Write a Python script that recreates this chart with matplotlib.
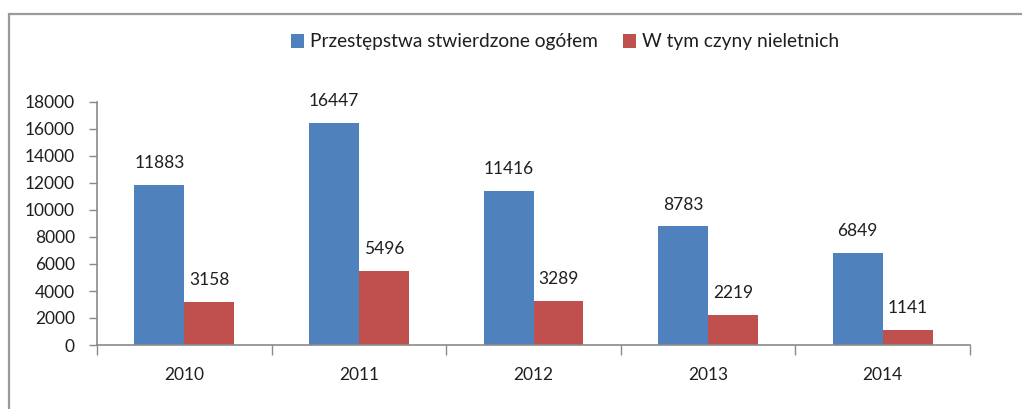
import matplotlib.pyplot as plt
import matplotlib.patches as patches
import numpy as np

years = ['2010', '2011', '2012', '2013', '2014']
total = [11883, 16447, 11416, 8783, 6849]
minors = [3158, 5496, 3289, 2219, 1141]
series_names = ['Przestępstwa stwierdzone ogółem', 'W tym czyny nieletnich']

plt.rcParams['font.family'] = ['Lato', 'DejaVu Sans']

W, H = 1022, 409
fig = plt.figure(figsize=(W / 100, H / 100), dpi=100)
fig.patch.set_facecolor('white')

# outer chart frame (only top/left visible in the picture)
frame = patches.Rectangle((9 / W, -0.2), 1.2, (H - 14) / H + 0.2, transform=fig.transFigure,
                          fill=False, edgecolor='#9a9a9a', linewidth=1.6, clip_on=False)
fig.patches.append(frame)

ax = fig.add_axes([97 / W, (H - 345) / H, (970 - 97) / W, (345 - 102) / H])

x = np.arange(len(years))
bw = 0.286
text_col = '#1f1f1f'
b1 = ax.bar(x - bw / 2, total, bw, color='#4F81BD', label=series_names[0])
b2 = ax.bar(x + bw / 2, minors, bw, color='#C0504D', label=series_names[1])

for bars in (b1, b2):
    for rect in bars:
        ax.annotate(str(int(rect.get_height())),
                    (rect.get_x() + rect.get_width() / 2, rect.get_height()),
                    xytext=(0, 10), textcoords='offset points', ha='center', va='bottom',
                    fontsize=12.5, color=text_col)

ax.set_xlim(-0.5, len(years) - 0.5)
ax.set_ylim(0, 18000)
ax.set_yticks(range(0, 18001, 2000))
ax.tick_params(axis='y', length=6, width=1, color='#8a8a8a', labelsize=12.5,
               labelcolor=text_col, pad=10)

# ticks at category boundaries, labels at centres
ax.set_xticks(np.arange(-0.5, len(years), 1.0))
ax.set_xticklabels([])
ax.set_xticks(x, minor=True)
ax.set_xticklabels(years, minor=True)
ax.tick_params(axis='x', which='major', length=7, width=1, color='#8a8a8a')
ax.tick_params(axis='x', which='minor', length=0, labelsize=12.5, labelcolor=text_col, pad=16)

for s in ('top', 'right'):
    ax.spines[s].set_visible(False)
for s in ('left', 'bottom'):
    ax.spines[s].set_color('#8a8a8a')
    ax.spines[s].set_linewidth(1.2)

leg = fig.legend(loc='center', bbox_to_anchor=(565 / W, (H - 42) / H), ncol=2, frameon=False,
                 fontsize=13.8, handlelength=0.7, handleheight=0.7, handletextpad=0.3,
                 columnspacing=1.3)
for t in leg.get_texts():
    t.set_color(text_col)

plt.savefig('out.png', dpi=100, facecolor=fig.get_facecolor())
